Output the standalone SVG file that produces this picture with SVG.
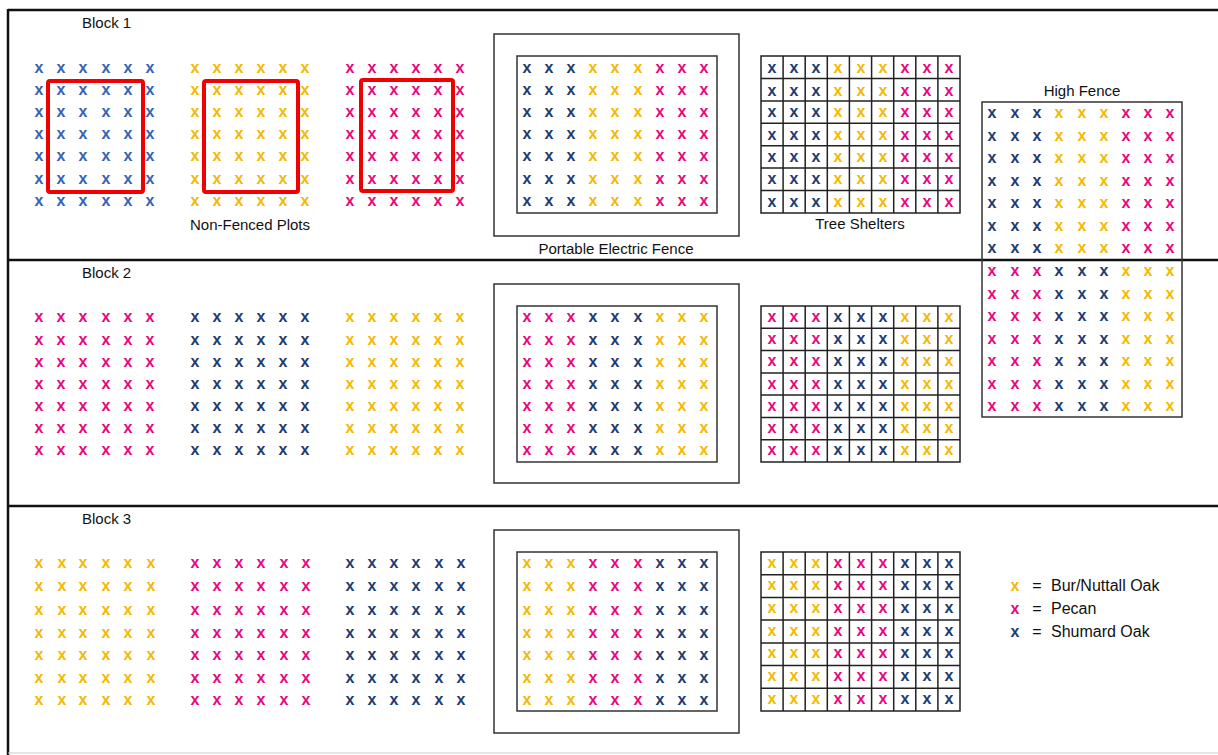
<svg xmlns="http://www.w3.org/2000/svg" width="1218" height="755" viewBox="0 0 1218 755">
<style>
.x{font-family:"Liberation Sans",Arial,sans-serif;font-weight:bold;font-size:16px;text-anchor:middle}
.n{fill:#203a72}.b{fill:#3563b5}.y{fill:#f5b800}.p{fill:#e8067f}
.lbl{font-family:"Liberation Sans",Arial,sans-serif;font-size:15px;fill:#111}
.mid{text-anchor:middle}
.leg{font-family:"Liberation Sans",Arial,sans-serif;font-size:16px;fill:#111}
.fence{fill:none;stroke:#333;stroke-width:1.5}
.red{fill:none;stroke:#f00000;stroke-width:4}
.grid{fill:none;stroke:#222;stroke-width:1.5}
.frame{stroke:#111;stroke-width:2.5;fill:none}
</style>
<rect width="1218" height="755" fill="#fff"/>
<g id="frame">
<line class="frame" x1="8" y1="10" x2="1218" y2="10"/>
<line class="frame" x1="8" y1="9" x2="8" y2="755"/>
<line class="frame" x1="8" y1="260" x2="1218" y2="260" stroke-width="2"/>
<line class="frame" x1="8" y1="506" x2="1218" y2="506" stroke-width="2"/>
<line x1="8" y1="753" x2="1218" y2="753" stroke="#ccc" stroke-width="1"/>
</g>
<g id="block1">
<text class="lbl" x="82" y="28">Block 1</text>
<g id="b1-plot1">
<text class="x b" x="39 61 83 106 128 150" y="73">xxxxxx</text>
<text class="x b" x="39 61 83 106 128 150" y="95">xxxxxx</text>
<text class="x b" x="39 61 83 106 128 150" y="117">xxxxxx</text>
<text class="x b" x="39 61 83 106 128 150" y="139">xxxxxx</text>
<text class="x b" x="39 61 83 106 128 150" y="161">xxxxxx</text>
<text class="x b" x="39 61 83 106 128 150" y="184">xxxxxx</text>
<text class="x b" x="39 61 83 106 128 150" y="206">xxxxxx</text>
<rect class="red" x="48" y="81" width="95" height="111" rx="2"/>
</g>
<g id="b1-plot2">
<text class="x y" x="195 217 239 261 283 305" y="73">xxxxxx</text>
<text class="x y" x="195 217 239 261 283 305" y="95">xxxxxx</text>
<text class="x y" x="195 217 239 261 283 305" y="117">xxxxxx</text>
<text class="x y" x="195 217 239 261 283 305" y="139">xxxxxx</text>
<text class="x y" x="195 217 239 261 283 305" y="161">xxxxxx</text>
<text class="x y" x="195 217 239 261 283 305" y="184">xxxxxx</text>
<text class="x y" x="195 217 239 261 283 305" y="206">xxxxxx</text>
<rect class="red" x="204" y="81" width="94" height="111" rx="2"/>
</g>
<g id="b1-plot3">
<text class="x p" x="350 372 394 416 438 460" y="73">xxxxxx</text>
<text class="x p" x="350 372 394 416 438 460" y="95">xxxxxx</text>
<text class="x p" x="350 372 394 416 438 460" y="117">xxxxxx</text>
<text class="x p" x="350 372 394 416 438 460" y="139">xxxxxx</text>
<text class="x p" x="350 372 394 416 438 460" y="161">xxxxxx</text>
<text class="x p" x="350 372 394 416 438 460" y="184">xxxxxx</text>
<text class="x p" x="350 372 394 416 438 460" y="206">xxxxxx</text>
<rect class="red" x="361" y="80" width="92" height="111" rx="2"/>
</g>
<text class="lbl mid" x="250" y="230">Non-Fenced Plots</text>
<g id="b1-fence">
<rect class="fence" x="494" y="34" width="245" height="202"/>
<rect class="fence" x="517" y="56" width="200" height="157"/>
<text class="x" y="73"><tspan class="n" x="527 549 571">xxx</tspan><tspan class="y" x="593 615 638">xxx</tspan><tspan class="p" x="660 682 704">xxx</tspan></text>
<text class="x" y="95"><tspan class="n" x="527 549 571">xxx</tspan><tspan class="y" x="593 615 638">xxx</tspan><tspan class="p" x="660 682 704">xxx</tspan></text>
<text class="x" y="117"><tspan class="n" x="527 549 571">xxx</tspan><tspan class="y" x="593 615 638">xxx</tspan><tspan class="p" x="660 682 704">xxx</tspan></text>
<text class="x" y="139"><tspan class="n" x="527 549 571">xxx</tspan><tspan class="y" x="593 615 638">xxx</tspan><tspan class="p" x="660 682 704">xxx</tspan></text>
<text class="x" y="161"><tspan class="n" x="527 549 571">xxx</tspan><tspan class="y" x="593 615 638">xxx</tspan><tspan class="p" x="660 682 704">xxx</tspan></text>
<text class="x" y="184"><tspan class="n" x="527 549 571">xxx</tspan><tspan class="y" x="593 615 638">xxx</tspan><tspan class="p" x="660 682 704">xxx</tspan></text>
<text class="x" y="206"><tspan class="n" x="527 549 571">xxx</tspan><tspan class="y" x="593 615 638">xxx</tspan><tspan class="p" x="660 682 704">xxx</tspan></text>
</g>
<text class="lbl mid" x="616" y="254">Portable Electric Fence</text>
<g id="b1-shelters">
<path class="grid" d="M761 56H960V213H761Z M783.1 56V213 M805.2 56V213 M827.3 56V213 M849.4 56V213 M871.6 56V213 M893.7 56V213 M915.8 56V213 M937.9 56V213 M761 78.4H960 M761 100.9H960 M761 123.3H960 M761 145.7H960 M761 168.1H960 M761 190.6H960"/>
<text class="x" y="73"><tspan class="n" x="772 794 816">xxx</tspan><tspan class="y" x="838 861 883">xxx</tspan><tspan class="p" x="905 927 949">xxx</tspan></text>
<text class="x" y="96"><tspan class="n" x="772 794 816">xxx</tspan><tspan class="y" x="838 861 883">xxx</tspan><tspan class="p" x="905 927 949">xxx</tspan></text>
<text class="x" y="117"><tspan class="n" x="772 794 816">xxx</tspan><tspan class="y" x="838 861 883">xxx</tspan><tspan class="p" x="905 927 949">xxx</tspan></text>
<text class="x" y="140"><tspan class="n" x="772 794 816">xxx</tspan><tspan class="y" x="838 861 883">xxx</tspan><tspan class="p" x="905 927 949">xxx</tspan></text>
<text class="x" y="162"><tspan class="n" x="772 794 816">xxx</tspan><tspan class="y" x="838 861 883">xxx</tspan><tspan class="p" x="905 927 949">xxx</tspan></text>
<text class="x" y="184"><tspan class="n" x="772 794 816">xxx</tspan><tspan class="y" x="838 861 883">xxx</tspan><tspan class="p" x="905 927 949">xxx</tspan></text>
<text class="x" y="207"><tspan class="n" x="772 794 816">xxx</tspan><tspan class="y" x="838 861 883">xxx</tspan><tspan class="p" x="905 927 949">xxx</tspan></text>
</g>
<text class="lbl mid" x="860" y="229">Tree Shelters</text>
</g>
<g id="high-fence">
<text class="lbl mid" x="1082" y="96">High Fence</text>
<rect class="fence" x="982" y="102" width="200" height="315"/>
<text class="x" y="118"><tspan class="n" x="992 1015 1037">xxx</tspan><tspan class="y" x="1059 1082 1104">xxx</tspan><tspan class="p" x="1126 1148 1170">xxx</tspan></text>
<text class="x" y="140.5"><tspan class="n" x="992 1015 1037">xxx</tspan><tspan class="y" x="1059 1082 1104">xxx</tspan><tspan class="p" x="1126 1148 1170">xxx</tspan></text>
<text class="x" y="163"><tspan class="n" x="992 1015 1037">xxx</tspan><tspan class="y" x="1059 1082 1104">xxx</tspan><tspan class="p" x="1126 1148 1170">xxx</tspan></text>
<text class="x" y="185.5"><tspan class="n" x="992 1015 1037">xxx</tspan><tspan class="y" x="1059 1082 1104">xxx</tspan><tspan class="p" x="1126 1148 1170">xxx</tspan></text>
<text class="x" y="208"><tspan class="n" x="992 1015 1037">xxx</tspan><tspan class="y" x="1059 1082 1104">xxx</tspan><tspan class="p" x="1126 1148 1170">xxx</tspan></text>
<text class="x" y="230.5"><tspan class="n" x="992 1015 1037">xxx</tspan><tspan class="y" x="1059 1082 1104">xxx</tspan><tspan class="p" x="1126 1148 1170">xxx</tspan></text>
<text class="x" y="253"><tspan class="n" x="992 1015 1037">xxx</tspan><tspan class="y" x="1059 1082 1104">xxx</tspan><tspan class="p" x="1126 1148 1170">xxx</tspan></text>
<text class="x" y="276"><tspan class="p" x="992 1015 1037">xxx</tspan><tspan class="n" x="1059 1082 1104">xxx</tspan><tspan class="y" x="1126 1148 1170">xxx</tspan></text>
<text class="x" y="299"><tspan class="p" x="992 1015 1037">xxx</tspan><tspan class="n" x="1059 1082 1104">xxx</tspan><tspan class="y" x="1126 1148 1170">xxx</tspan></text>
<text class="x" y="321"><tspan class="p" x="992 1015 1037">xxx</tspan><tspan class="n" x="1059 1082 1104">xxx</tspan><tspan class="y" x="1126 1148 1170">xxx</tspan></text>
<text class="x" y="344"><tspan class="p" x="992 1015 1037">xxx</tspan><tspan class="n" x="1059 1082 1104">xxx</tspan><tspan class="y" x="1126 1148 1170">xxx</tspan></text>
<text class="x" y="366"><tspan class="p" x="992 1015 1037">xxx</tspan><tspan class="n" x="1059 1082 1104">xxx</tspan><tspan class="y" x="1126 1148 1170">xxx</tspan></text>
<text class="x" y="388.5"><tspan class="p" x="992 1015 1037">xxx</tspan><tspan class="n" x="1059 1082 1104">xxx</tspan><tspan class="y" x="1126 1148 1170">xxx</tspan></text>
<text class="x" y="411"><tspan class="p" x="992 1015 1037">xxx</tspan><tspan class="n" x="1059 1082 1104">xxx</tspan><tspan class="y" x="1126 1148 1170">xxx</tspan></text>
</g>
<g id="block2">
<text class="lbl" x="82" y="278">Block 2</text>
<g id="b2-plot1">
<text class="x p" x="39 61 83 106 128 150" y="322">xxxxxx</text>
<text class="x p" x="39 61 83 106 128 150" y="345">xxxxxx</text>
<text class="x p" x="39 61 83 106 128 150" y="367">xxxxxx</text>
<text class="x p" x="39 61 83 106 128 150" y="389">xxxxxx</text>
<text class="x p" x="39 61 83 106 128 150" y="411">xxxxxx</text>
<text class="x p" x="39 61 83 106 128 150" y="433">xxxxxx</text>
<text class="x p" x="39 61 83 106 128 150" y="455">xxxxxx</text>
</g>
<g id="b2-plot2">
<text class="x n" x="195 217 239 261 283 305" y="322">xxxxxx</text>
<text class="x n" x="195 217 239 261 283 305" y="345">xxxxxx</text>
<text class="x n" x="195 217 239 261 283 305" y="367">xxxxxx</text>
<text class="x n" x="195 217 239 261 283 305" y="389">xxxxxx</text>
<text class="x n" x="195 217 239 261 283 305" y="411">xxxxxx</text>
<text class="x n" x="195 217 239 261 283 305" y="433">xxxxxx</text>
<text class="x n" x="195 217 239 261 283 305" y="455">xxxxxx</text>
</g>
<g id="b2-plot3">
<text class="x y" x="350 372 394 416 438 460" y="322">xxxxxx</text>
<text class="x y" x="350 372 394 416 438 460" y="345">xxxxxx</text>
<text class="x y" x="350 372 394 416 438 460" y="367">xxxxxx</text>
<text class="x y" x="350 372 394 416 438 460" y="389">xxxxxx</text>
<text class="x y" x="350 372 394 416 438 460" y="411">xxxxxx</text>
<text class="x y" x="350 372 394 416 438 460" y="433">xxxxxx</text>
<text class="x y" x="350 372 394 416 438 460" y="455">xxxxxx</text>
</g>
<g id="b2-fence">
<rect class="fence" x="494" y="284" width="245" height="199"/>
<rect class="fence" x="517" y="306" width="200" height="156"/>
<text class="x" y="322"><tspan class="p" x="527 549 571">xxx</tspan><tspan class="n" x="593 615 638">xxx</tspan><tspan class="y" x="660 682 704">xxx</tspan></text>
<text class="x" y="345"><tspan class="p" x="527 549 571">xxx</tspan><tspan class="n" x="593 615 638">xxx</tspan><tspan class="y" x="660 682 704">xxx</tspan></text>
<text class="x" y="367"><tspan class="p" x="527 549 571">xxx</tspan><tspan class="n" x="593 615 638">xxx</tspan><tspan class="y" x="660 682 704">xxx</tspan></text>
<text class="x" y="389"><tspan class="p" x="527 549 571">xxx</tspan><tspan class="n" x="593 615 638">xxx</tspan><tspan class="y" x="660 682 704">xxx</tspan></text>
<text class="x" y="411"><tspan class="p" x="527 549 571">xxx</tspan><tspan class="n" x="593 615 638">xxx</tspan><tspan class="y" x="660 682 704">xxx</tspan></text>
<text class="x" y="433"><tspan class="p" x="527 549 571">xxx</tspan><tspan class="n" x="593 615 638">xxx</tspan><tspan class="y" x="660 682 704">xxx</tspan></text>
<text class="x" y="455"><tspan class="p" x="527 549 571">xxx</tspan><tspan class="n" x="593 615 638">xxx</tspan><tspan class="y" x="660 682 704">xxx</tspan></text>
</g>
<g id="b2-shelters">
<path class="grid" d="M761 306H960V462H761Z M783.1 306V462 M805.2 306V462 M827.3 306V462 M849.4 306V462 M871.6 306V462 M893.7 306V462 M915.8 306V462 M937.9 306V462 M761 328.3H960 M761 350.6H960 M761 372.9H960 M761 395.1H960 M761 417.4H960 M761 439.7H960"/>
<text class="x" y="322"><tspan class="p" x="772 794 816">xxx</tspan><tspan class="n" x="838 861 883">xxx</tspan><tspan class="y" x="905 927 949">xxx</tspan></text>
<text class="x" y="344"><tspan class="p" x="772 794 816">xxx</tspan><tspan class="n" x="838 861 883">xxx</tspan><tspan class="y" x="905 927 949">xxx</tspan></text>
<text class="x" y="366"><tspan class="p" x="772 794 816">xxx</tspan><tspan class="n" x="838 861 883">xxx</tspan><tspan class="y" x="905 927 949">xxx</tspan></text>
<text class="x" y="389"><tspan class="p" x="772 794 816">xxx</tspan><tspan class="n" x="838 861 883">xxx</tspan><tspan class="y" x="905 927 949">xxx</tspan></text>
<text class="x" y="411"><tspan class="p" x="772 794 816">xxx</tspan><tspan class="n" x="838 861 883">xxx</tspan><tspan class="y" x="905 927 949">xxx</tspan></text>
<text class="x" y="433"><tspan class="p" x="772 794 816">xxx</tspan><tspan class="n" x="838 861 883">xxx</tspan><tspan class="y" x="905 927 949">xxx</tspan></text>
<text class="x" y="455"><tspan class="p" x="772 794 816">xxx</tspan><tspan class="n" x="838 861 883">xxx</tspan><tspan class="y" x="905 927 949">xxx</tspan></text>
</g>
</g>
<g id="block3">
<text class="lbl" x="82" y="524">Block 3</text>
<g id="b3-plot1">
<text class="x y" x="39 62 83 106 128 151" y="568">xxxxxx</text>
<text class="x y" x="39 62 83 106 128 151" y="591">xxxxxx</text>
<text class="x y" x="39 62 83 106 128 151" y="615">xxxxxx</text>
<text class="x y" x="39 62 83 106 128 151" y="638">xxxxxx</text>
<text class="x y" x="39 62 83 106 128 151" y="660">xxxxxx</text>
<text class="x y" x="39 62 83 106 128 151" y="683">xxxxxx</text>
<text class="x y" x="39 62 83 106 128 151" y="705">xxxxxx</text>
</g>
<g id="b3-plot2">
<text class="x p" x="195 217 239 261 284 306" y="568">xxxxxx</text>
<text class="x p" x="195 217 239 261 284 306" y="591">xxxxxx</text>
<text class="x p" x="195 217 239 261 284 306" y="615">xxxxxx</text>
<text class="x p" x="195 217 239 261 284 306" y="638">xxxxxx</text>
<text class="x p" x="195 217 239 261 284 306" y="660">xxxxxx</text>
<text class="x p" x="195 217 239 261 284 306" y="683">xxxxxx</text>
<text class="x p" x="195 217 239 261 284 306" y="705">xxxxxx</text>
</g>
<g id="b3-plot3">
<text class="x n" x="350 372 394 416 439 461" y="568">xxxxxx</text>
<text class="x n" x="350 372 394 416 439 461" y="591">xxxxxx</text>
<text class="x n" x="350 372 394 416 439 461" y="615">xxxxxx</text>
<text class="x n" x="350 372 394 416 439 461" y="638">xxxxxx</text>
<text class="x n" x="350 372 394 416 439 461" y="660">xxxxxx</text>
<text class="x n" x="350 372 394 416 439 461" y="683">xxxxxx</text>
<text class="x n" x="350 372 394 416 439 461" y="705">xxxxxx</text>
</g>
<g id="b3-fence">
<rect class="fence" x="494" y="530" width="245" height="203"/>
<rect class="fence" x="517" y="552" width="200" height="159"/>
<text class="x" y="568"><tspan class="y" x="527 549 571">xxx</tspan><tspan class="p" x="593 615 638">xxx</tspan><tspan class="n" x="660 682 704">xxx</tspan></text>
<text class="x" y="591"><tspan class="y" x="527 549 571">xxx</tspan><tspan class="p" x="593 615 638">xxx</tspan><tspan class="n" x="660 682 704">xxx</tspan></text>
<text class="x" y="615"><tspan class="y" x="527 549 571">xxx</tspan><tspan class="p" x="593 615 638">xxx</tspan><tspan class="n" x="660 682 704">xxx</tspan></text>
<text class="x" y="638"><tspan class="y" x="527 549 571">xxx</tspan><tspan class="p" x="593 615 638">xxx</tspan><tspan class="n" x="660 682 704">xxx</tspan></text>
<text class="x" y="660"><tspan class="y" x="527 549 571">xxx</tspan><tspan class="p" x="593 615 638">xxx</tspan><tspan class="n" x="660 682 704">xxx</tspan></text>
<text class="x" y="683"><tspan class="y" x="527 549 571">xxx</tspan><tspan class="p" x="593 615 638">xxx</tspan><tspan class="n" x="660 682 704">xxx</tspan></text>
<text class="x" y="705"><tspan class="y" x="527 549 571">xxx</tspan><tspan class="p" x="593 615 638">xxx</tspan><tspan class="n" x="660 682 704">xxx</tspan></text>
</g>
<g id="b3-shelters">
<path class="grid" d="M761 552H960V711H761Z M783.1 552V711 M805.2 552V711 M827.3 552V711 M849.4 552V711 M871.6 552V711 M893.7 552V711 M915.8 552V711 M937.9 552V711 M761 574.7H960 M761 597.4H960 M761 620.1H960 M761 642.9H960 M761 665.6H960 M761 688.3H960"/>
<text class="x" y="568"><tspan class="y" x="772 794 816">xxx</tspan><tspan class="p" x="838 861 883">xxx</tspan><tspan class="n" x="905 927 949">xxx</tspan></text>
<text class="x" y="590"><tspan class="y" x="772 794 816">xxx</tspan><tspan class="p" x="838 861 883">xxx</tspan><tspan class="n" x="905 927 949">xxx</tspan></text>
<text class="x" y="613"><tspan class="y" x="772 794 816">xxx</tspan><tspan class="p" x="838 861 883">xxx</tspan><tspan class="n" x="905 927 949">xxx</tspan></text>
<text class="x" y="636"><tspan class="y" x="772 794 816">xxx</tspan><tspan class="p" x="838 861 883">xxx</tspan><tspan class="n" x="905 927 949">xxx</tspan></text>
<text class="x" y="658"><tspan class="y" x="772 794 816">xxx</tspan><tspan class="p" x="838 861 883">xxx</tspan><tspan class="n" x="905 927 949">xxx</tspan></text>
<text class="x" y="681"><tspan class="y" x="772 794 816">xxx</tspan><tspan class="p" x="838 861 883">xxx</tspan><tspan class="n" x="905 927 949">xxx</tspan></text>
<text class="x" y="704"><tspan class="y" x="772 794 816">xxx</tspan><tspan class="p" x="838 861 883">xxx</tspan><tspan class="n" x="905 927 949">xxx</tspan></text>
</g>
</g>
<g id="legend">
<text class="x y" x="1015" y="591">x</text>
<text class="leg mid" x="1037" y="591">=</text>
<text class="leg" x="1051" y="591">Bur/Nuttall Oak</text>
<text class="x p" x="1015" y="614">x</text>
<text class="leg mid" x="1037" y="614">=</text>
<text class="leg" x="1051" y="614">Pecan</text>
<text class="x n" x="1015" y="637">x</text>
<text class="leg mid" x="1037" y="637">=</text>
<text class="leg" x="1051" y="637">Shumard Oak</text>
</g>
</svg>
